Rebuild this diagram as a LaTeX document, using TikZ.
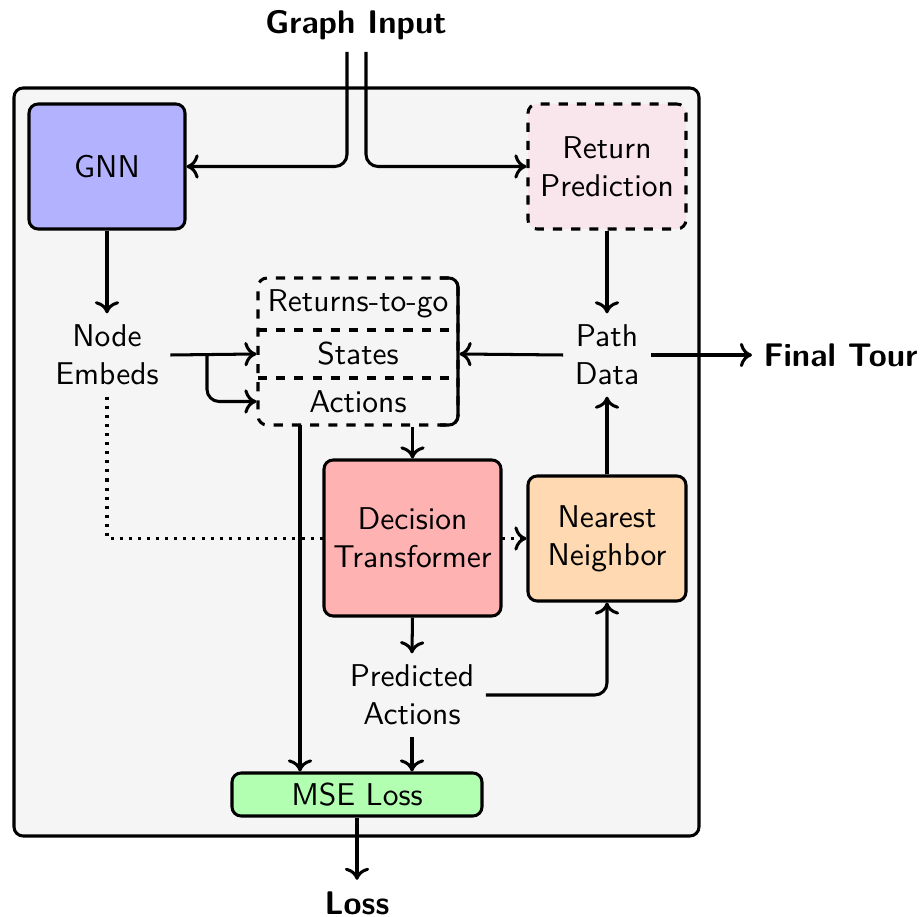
\documentclass[tikz,border=0pt]{standalone}
\usepackage{fontspec}
\usetikzlibrary{arrows.meta,backgrounds}
\def\pxu{0.33pt}
\begin{document}
\begin{tikzpicture}[x=0.33pt,y=-0.33pt,
  font=\sffamily\fontsize{10.4}{12.5}\selectfont,
  line width=1pt,
  >={To[length=4pt,width=8pt]},
  box/.style={draw,rounded corners=3pt,align=center,inner sep=0pt},
  lbl/.style={align=center},
  blbl/.style={font=\sffamily\bfseries\fontsize{10.8}{13}\selectfont},
  txt/.style={inner sep=0pt,minimum width=200*\pxu},
]
\useasboundingbox (0,0) rectangle (921,917);

% nodes
\node[blbl] (gin) at (356,25) {Graph Input};
\node[box,fill=blue!30,minimum width=156*\pxu,minimum height=125*\pxu] (gnn) at (107,166.5) {GNN};
\node[box,dashed,fill=purple!10,minimum width=158*\pxu,minimum height=125*\pxu] (ret) at (607,166.5) {Return\\Prediction};
\node[lbl] (emb) at (107,355) {Node\\Embeds};
\node[lbl] (path) at (607,355) {Path\\Data};
\node[blbl,anchor=west] (final) at (752,355) {Final Tour};

% token stack
\draw[dashed,rounded corners=3pt] (458,278) rectangle (258,425);
\draw[rounded corners=3pt] (440,278) -- (458,278) -- (458,425) -- (440,425);
\draw[dashed] (258,330) -- (458,330);
\draw[dashed] (258,378) -- (458,378);
\node[txt,minimum height=52*\pxu] (rtg) at (358,304) {Returns-to-go};
\node[txt,minimum height=48*\pxu] (sts) at (358,354) {States};
\node[txt,minimum height=47*\pxu] (act) at (358,401.5) {Actions};

\node[box,fill=red!30,minimum width=177*\pxu,minimum height=156*\pxu] (dt) at (412.5,538) {Decision\\Transformer};
\node[box,fill=orange!30,minimum width=158*\pxu,minimum height=125*\pxu] (nn) at (607,538.5) {Nearest\\Neighbor};
\node[lbl] (pred) at (412,695) {Predicted\\Actions};
\node[box,fill=green!30,minimum width=250*\pxu,minimum height=43*\pxu] (mse) at (357,794.5) {MSE Loss};
\node[blbl] (loss) at (357,903) {Loss};

% container and dotted connector behind
\begin{scope}[on background layer,line width=1pt]
\draw[line width=1pt,fill=black!4,rounded corners=3pt] (14,88) rectangle (699,836);
\draw[line width=1pt,->,dotted] (emb.south) |- (nn.west);
\end{scope}

% connectors
\coordinate (g1) at (347,52);
\coordinate (g2) at (366,52);
\draw[->,rounded corners=4pt] (g1) |- (gnn.east);
\draw[->,rounded corners=4pt] (g2) |- (ret.west);
\draw[->] (gnn.south) -- (emb.north);
\draw[->] (ret.south) -- (path.north);
\draw[->] (emb.east) -- (sts.west);
\coordinate (br) at (207,355);
\draw[->,rounded corners=4pt] (br) |- (act.west);
\draw[->] (path.west) -- (sts.east);
\draw[->] (path.east) -- (final.west);
\draw[->] (dt.north |- act.south) -- (dt.north);
\coordinate (a1) at (300,425);
\draw[->] (a1) -- (a1 |- mse.north);
\draw[->] (dt.south) -- (pred.north);
\draw[->,rounded corners=4pt] (pred.east) -| (nn.south);
\draw[->] (pred.south) -- (pred.south |- mse.north);
\draw[->] (nn.north) -- (path.south);
\draw[->] (mse.south) -- (loss.north);
\end{tikzpicture}
\end{document}
